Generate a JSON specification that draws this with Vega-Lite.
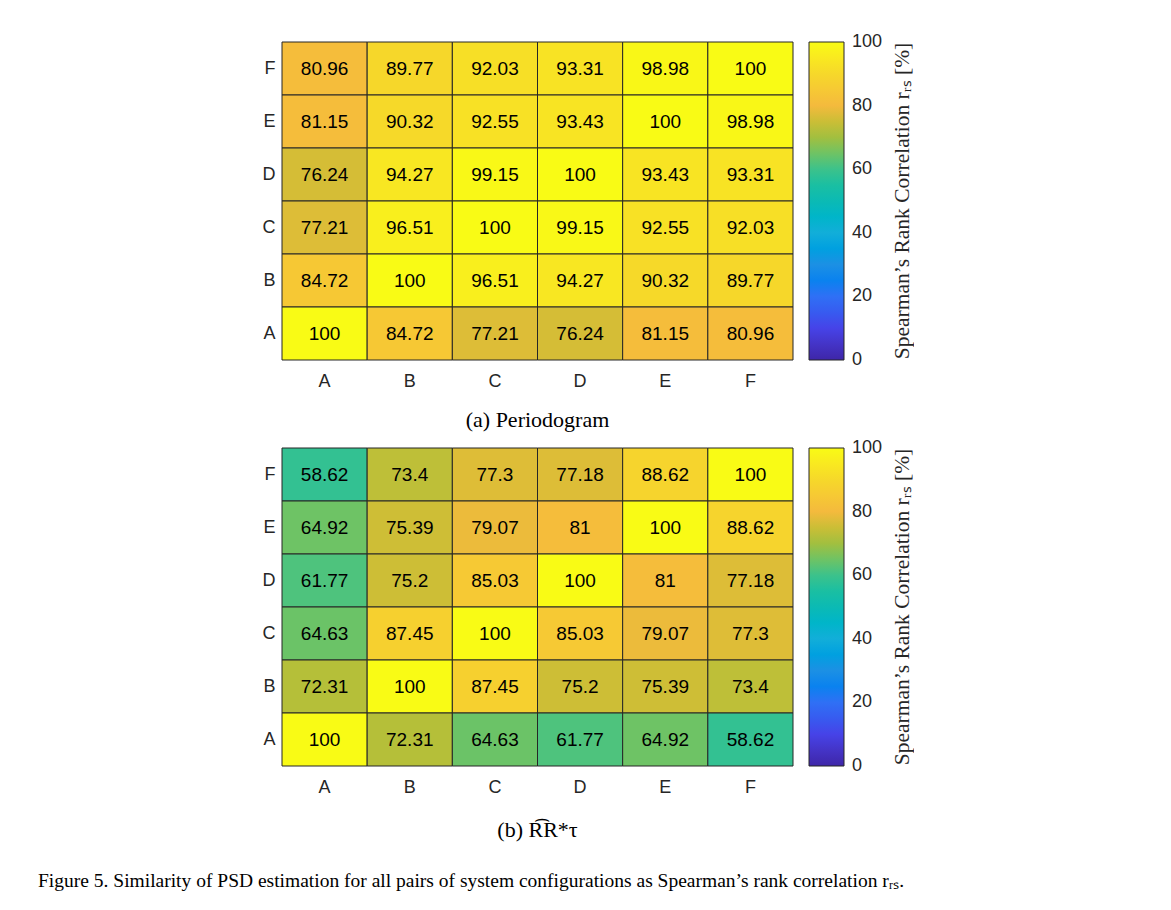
{
  "$schema": "https://vega.github.io/schema/vega-lite/v6.json",
  "padding": {"left": 38, "top": 41, "right": 0, "bottom": 0},
  "background": "white",
  "config": {
    "view": {"stroke": null},
    "axis": {"labelFont": "Liberation Sans", "labelFontSize": 18, "labelColor": "#262626", "ticks": false, "domain": false, "grid": false, "title": null},
    "legend": {"labelFont": "Liberation Sans", "labelFontSize": 18, "labelColor": "#262626", "titleFont": "Liberation Serif", "titleFontSize": 21.5, "titleFontWeight": "normal", "titleColor": "#262626", "titleLimit": 500},
    "title": {"font": "Liberation Serif", "fontSize": 22, "fontWeight": "normal", "color": "#000000"}
  },
  "datasets": {
    "periodogram": [
      {"row": "F", "col": "A", "v": 80.96}, {"row": "F", "col": "B", "v": 89.77}, {"row": "F", "col": "C", "v": 92.03}, {"row": "F", "col": "D", "v": 93.31}, {"row": "F", "col": "E", "v": 98.98}, {"row": "F", "col": "F", "v": 100},
      {"row": "E", "col": "A", "v": 81.15}, {"row": "E", "col": "B", "v": 90.32}, {"row": "E", "col": "C", "v": 92.55}, {"row": "E", "col": "D", "v": 93.43}, {"row": "E", "col": "E", "v": 100}, {"row": "E", "col": "F", "v": 98.98},
      {"row": "D", "col": "A", "v": 76.24}, {"row": "D", "col": "B", "v": 94.27}, {"row": "D", "col": "C", "v": 99.15}, {"row": "D", "col": "D", "v": 100}, {"row": "D", "col": "E", "v": 93.43}, {"row": "D", "col": "F", "v": 93.31},
      {"row": "C", "col": "A", "v": 77.21}, {"row": "C", "col": "B", "v": 96.51}, {"row": "C", "col": "C", "v": 100}, {"row": "C", "col": "D", "v": 99.15}, {"row": "C", "col": "E", "v": 92.55}, {"row": "C", "col": "F", "v": 92.03},
      {"row": "B", "col": "A", "v": 84.72}, {"row": "B", "col": "B", "v": 100}, {"row": "B", "col": "C", "v": 96.51}, {"row": "B", "col": "D", "v": 94.27}, {"row": "B", "col": "E", "v": 90.32}, {"row": "B", "col": "F", "v": 89.77},
      {"row": "A", "col": "A", "v": 100}, {"row": "A", "col": "B", "v": 84.72}, {"row": "A", "col": "C", "v": 77.21}, {"row": "A", "col": "D", "v": 76.24}, {"row": "A", "col": "E", "v": 81.15}, {"row": "A", "col": "F", "v": 80.96}
    ],
    "rr": [
      {"row": "F", "col": "A", "v": 58.62}, {"row": "F", "col": "B", "v": 73.4}, {"row": "F", "col": "C", "v": 77.3}, {"row": "F", "col": "D", "v": 77.18}, {"row": "F", "col": "E", "v": 88.62}, {"row": "F", "col": "F", "v": 100},
      {"row": "E", "col": "A", "v": 64.92}, {"row": "E", "col": "B", "v": 75.39}, {"row": "E", "col": "C", "v": 79.07}, {"row": "E", "col": "D", "v": 81}, {"row": "E", "col": "E", "v": 100}, {"row": "E", "col": "F", "v": 88.62},
      {"row": "D", "col": "A", "v": 61.77}, {"row": "D", "col": "B", "v": 75.2}, {"row": "D", "col": "C", "v": 85.03}, {"row": "D", "col": "D", "v": 100}, {"row": "D", "col": "E", "v": 81}, {"row": "D", "col": "F", "v": 77.18},
      {"row": "C", "col": "A", "v": 64.63}, {"row": "C", "col": "B", "v": 87.45}, {"row": "C", "col": "C", "v": 100}, {"row": "C", "col": "D", "v": 85.03}, {"row": "C", "col": "E", "v": 79.07}, {"row": "C", "col": "F", "v": 77.3},
      {"row": "B", "col": "A", "v": 72.31}, {"row": "B", "col": "B", "v": 100}, {"row": "B", "col": "C", "v": 87.45}, {"row": "B", "col": "D", "v": 75.2}, {"row": "B", "col": "E", "v": 75.39}, {"row": "B", "col": "F", "v": 73.4},
      {"row": "A", "col": "A", "v": 100}, {"row": "A", "col": "B", "v": 72.31}, {"row": "A", "col": "C", "v": 64.63}, {"row": "A", "col": "D", "v": 61.77}, {"row": "A", "col": "E", "v": 64.92}, {"row": "A", "col": "F", "v": 58.62}
    ]
  },
  "title": {
    "text": "Figure 5. Similarity of PSD estimation for all pairs of system configurations as Spearman’s rank correlation rᵣₛ.",
    "orient": "bottom", "anchor": "start", "fontSize": 19.5, "offset": 31, "dx": -224
  },
  "spacing": 16,
  "resolve": {"scale": {"color": "independent"}, "legend": {"color": "independent"}},
  "vconcat": [
    {
      "width": 511, "height": 318,
      "data": {"name": "periodogram"},
      "title": {"text": "(a) Periodogram", "orient": "bottom", "anchor": "middle", "offset": 20},
      "encoding": {
        "x": {"field": "col", "type": "ordinal", "sort": ["A", "B", "C", "D", "E", "F"], "axis": {"labelAngle": 0, "labelPadding": 12}},
        "y": {"field": "row", "type": "ordinal", "sort": ["F", "E", "D", "C", "B", "A"], "axis": {"labelPadding": 7}}
      },
      "layer": [
        {
          "mark": {"type": "rect", "stroke": "#262626", "strokeWidth": 1},
          "encoding": {
            "color": {"field": "v", "type": "quantitative",
              "scale": {"domain": [0, 100], "range": ["#3e26a8", "#4643e8", "#2f70f5", "#1c90e4", "#12aed9", "#0bbab4", "#3cc28b", "#a2bf3f", "#f4ba3d", "#f6d82a", "#f9fb15"]},
              "legend": {"title": "Spearman’s Rank Correlation rᵣₛ [%]", "orient": "right", "offset": 16, "direction": "vertical", "gradientLength": 318, "gradientThickness": 35, "gradientStrokeColor": "#262626", "gradientStrokeWidth": 1, "values": [0, 20, 40, 60, 80, 100], "labelOffset": 8, "titleOrient": "right", "titleAnchor": "middle", "titlePadding": 10,
                "encode": {"title": {"update": {"angle": {"value": 270}, "baseline": {"value": "top"}}}, "labels": {"update": {"baseline": {"value": "middle"}}}}}
            }
          }
        },
        {
          "mark": {"type": "text", "font": "Liberation Sans", "fontSize": 19, "color": "#000000"},
          "encoding": {"text": {"field": "v", "type": "quantitative"}}
        }
      ]
    },
    {
      "width": 511, "height": 318,
      "data": {"name": "rr"},
      "title": {"text": "(b) R͡R*τ", "orient": "bottom", "anchor": "middle", "offset": 24},
      "encoding": {
        "x": {"field": "col", "type": "ordinal", "sort": ["A", "B", "C", "D", "E", "F"], "axis": {"labelAngle": 0, "labelPadding": 12}},
        "y": {"field": "row", "type": "ordinal", "sort": ["F", "E", "D", "C", "B", "A"], "axis": {"labelPadding": 7}}
      },
      "layer": [
        {
          "mark": {"type": "rect", "stroke": "#262626", "strokeWidth": 1},
          "encoding": {
            "color": {"field": "v", "type": "quantitative",
              "scale": {"domain": [0, 100], "range": ["#3e26a8", "#4643e8", "#2f70f5", "#1c90e4", "#12aed9", "#0bbab4", "#3cc28b", "#a2bf3f", "#f4ba3d", "#f6d82a", "#f9fb15"]},
              "legend": {"title": "Spearman’s Rank Correlation rᵣₛ [%]", "orient": "right", "offset": 16, "direction": "vertical", "gradientLength": 318, "gradientThickness": 35, "gradientStrokeColor": "#262626", "gradientStrokeWidth": 1, "values": [0, 20, 40, 60, 80, 100], "labelOffset": 8, "titleOrient": "right", "titleAnchor": "middle", "titlePadding": 10,
                "encode": {"title": {"update": {"angle": {"value": 270}, "baseline": {"value": "top"}}}, "labels": {"update": {"baseline": {"value": "middle"}}}}}
            }
          }
        },
        {
          "mark": {"type": "text", "font": "Liberation Sans", "fontSize": 19, "color": "#000000"},
          "encoding": {"text": {"field": "v", "type": "quantitative"}}
        }
      ]
    }
  ]
}
